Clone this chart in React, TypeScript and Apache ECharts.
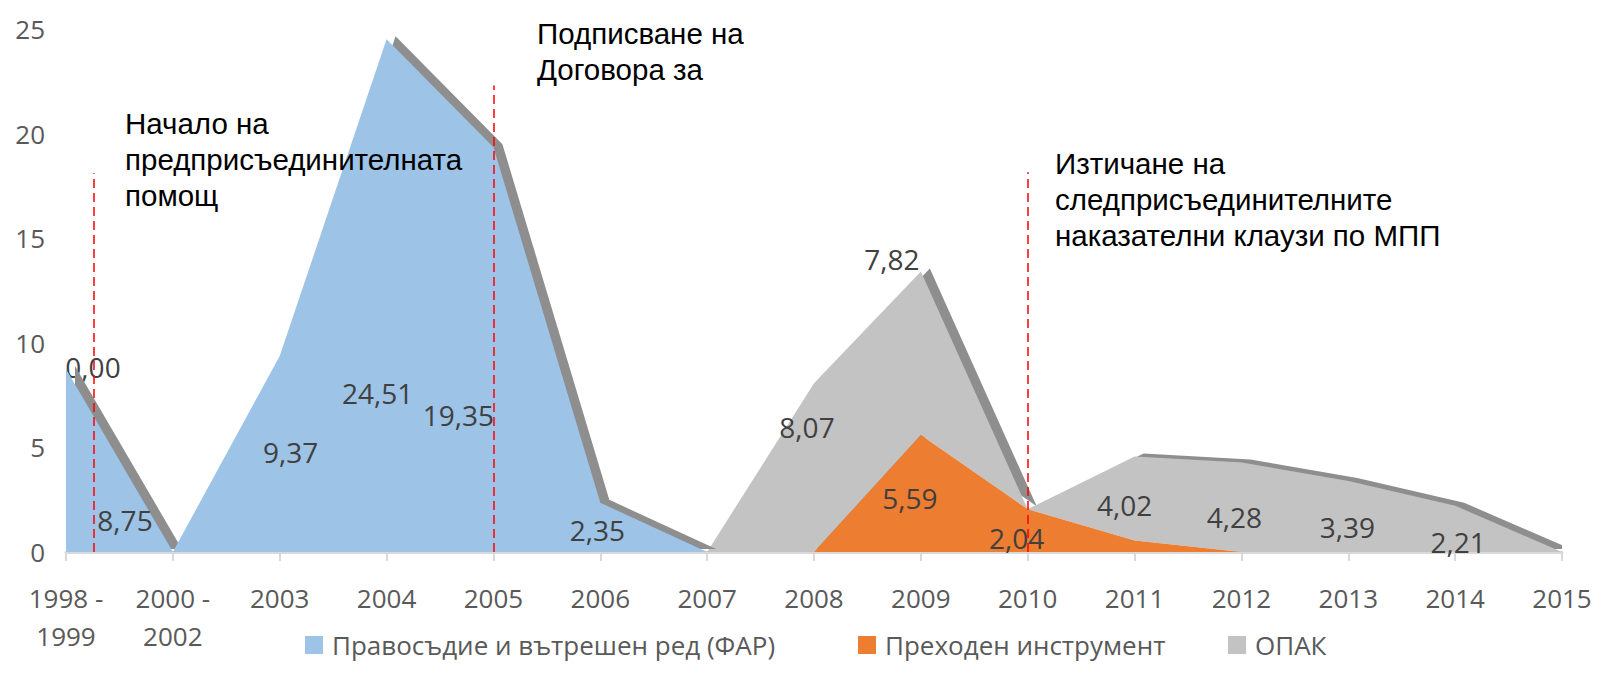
import React, { useEffect, useRef } from 'react';
import * as echarts from 'echarts';

// ---- data ----
const categories = ['1998 -\n1999', '2000 -\n2002', '2003', '2004', '2005', '2006', '2007', '2008', '2009', '2010', '2011', '2012', '2013', '2014', '2015'];
const seriesNames = ['Правосъдие и вътрешен ред (ФАР)', 'Преходен инструмент', 'ОПАК'];
const farValues = [8.75, 0, 9.37, 24.51, 19.35, 2.35, 0, 0, 0, 0, 0, 0, 0, 0, 0];
const transitionValues = [0, 0, 0, 0, 0, 0, 0, 0, 5.59, 2.04, 0.55, 0, 0, 0, 0];
const opakValues = [0, 0, 0, 0, 0, 0, 0, 8.07, 7.82, 0, 4.02, 4.28, 3.39, 2.21, 0];
const yMin = 0;
const yMax = 25;
const yInterval = 5;

// event markers (x in category-index units, top in value units)
const eventX = [0.26, 4, 9];
const eventTop = [18.1, 22.3, 18.15];
const eventTexts = [
  'Начало на\nпредприсъединителната\nпомощ',
  'Подписване на\nДоговора за',
  'Изтичане на\nследприсъединителните\nнаказателни клаузи по МПП',
];

// ---- style ----
const colors = ['#9DC3E6', '#ED7D31', '#C3C3C3'];
const depthColor = '#8E8E8E';
const eventTextPos = [
  [125, 105],
  [537, 15],
  [1055, 145],
];
// label offsets (px) for the labelled points of each series
const labelOffsets: Record<number, number[]>[] = [
  { 0: [59, 151], 2: [11, 96], 3: [-9, 354], 4: [-35, 268], 5: [-3, 27] },
  { 8: [-11, 63], 9: [-11, 29] },
  { 0: [27, -2], 7: [-7, 44], 8: [-29, -12], 10: [-10, 49], 11: [-7, 55], 12: [-1, 46], 13: [3, 36] },
];
const legendLeft = [305, 858, 1228];

const FONT = '"Open Sans", "DejaVu Sans", sans-serif';

function buildData(values: number[], offsets: Record<number, number[]>) {
  return values.map((v, i) => ({
    value: v,
    label: offsets[i] ? { show: true, offset: offsets[i] } : { show: false },
  }));
}

export default function App() {
  const ref = useRef<HTMLDivElement>(null);

  useEffect(() => {
    if (!ref.current) return;
    const chart = echarts.init(ref.current, undefined, { renderer: 'svg' });
    const valueSets = [farValues, transitionValues, opakValues];
    const zs = [4, 3, 2];
    const withDepth = [true, false, true];

    const series: any[] = valueSets.map((vals, si) => ({
      name: seriesNames[si],
      type: 'line',
      stack: 'total',
      xAxisIndex: 0,
      yAxisIndex: 0,
      z: zs[si],
      clip: false,
      symbol: 'circle',
      symbolSize: 0,
      showSymbol: true,
      lineStyle: { width: 0, opacity: 0 },
      itemStyle: { color: colors[si] },
      areaStyle: withDepth[si]
        ? {
            color: colors[si],
            opacity: 1,
            shadowColor: depthColor,
            shadowBlur: 0,
            shadowOffsetX: 9,
            shadowOffsetY: -3,
          }
        : { color: colors[si], opacity: 1 },
      label: {
        show: false,
        position: 'inside',
        fontSize: 28,
        fontFamily: FONT,
        color: '#404040',
        formatter: (p: any) => Number(p.value).toFixed(2).replace('.', ','),
      },
      emphasis: { disabled: true },
      data: buildData(vals, labelOffsets[si]),
    }));

    // event marker lines on a hidden continuous x axis spanning the same grid
    series.push({
      type: 'line',
      xAxisIndex: 1,
      yAxisIndex: 0,
      z: 10,
      data: [],
      markLine: {
        silent: true,
        symbol: ['none', 'none'],
        label: { show: false },
        lineStyle: { color: '#FF0000', type: [9, 5], width: 1.5 },
        emphasis: { disabled: true },
        data: eventX.map((x, i) => [{ coord: [x, 0] }, { coord: [x, eventTop[i]] }]),
      },
    });

    const legendCommon = {
      orient: 'horizontal',
      top: 630,
      padding: 0,
      icon: 'rect',
      itemWidth: 18,
      itemHeight: 18,
      selectedMode: false,
      textStyle: { fontSize: 26, lineHeight: 30, color: '#595959', fontFamily: FONT, padding: [0, 0, 0, 4] },
    };

    chart.setOption({
      animation: false,
      backgroundColor: '#FFFFFF',
      grid: { left: 66, right: 46, top: 29, bottom: 121 },
      legend: seriesNames.map((n, i) => ({ ...legendCommon, left: legendLeft[i], data: [n] })),
      xAxis: [
        {
          type: 'category',
          data: categories,
          boundaryGap: false,
          splitLine: { show: false },
          axisLine: { show: true, lineStyle: { color: '#D9D9D9', width: 3 } },
          axisTick: { show: true, length: 9, interval: 0, lineStyle: { color: '#D9D9D9', width: 2 } },
          axisLabel: {
            show: true,
            interval: 0,
            fontSize: 26,
            lineHeight: 38,
            margin: 27,
            color: '#595959',
            fontFamily: FONT,
          },
        },
        {
          type: 'value',
          min: 0,
          max: categories.length - 1,
          show: false,
        },
      ],
      yAxis: {
        type: 'value',
        min: yMin,
        max: yMax,
        interval: yInterval,
        splitLine: { show: false },
        axisLine: { show: false },
        axisTick: { show: false },
        axisLabel: { fontSize: 26, color: '#595959', fontFamily: FONT, margin: 21 },
      },
      graphic: eventTexts.map((t, i) => ({
        type: 'text',
        x: eventTextPos[i][0],
        y: eventTextPos[i][1],
        z: 100,
        silent: true,
        style: {
          text: t,
          fill: '#000000',
          fontSize: 29.5,
          fontFamily: '"Liberation Sans", Arial, sans-serif',
          lineHeight: 36,
          verticalAlign: 'top',
        },
      })),
      series,
    });

    return () => chart.dispose();
  }, []);

  return (
    <div
      ref={ref}
      style={{ position: 'fixed', left: 0, top: 0, width: 1608, height: 673, background: '#fff' }}
    />
  );
}
